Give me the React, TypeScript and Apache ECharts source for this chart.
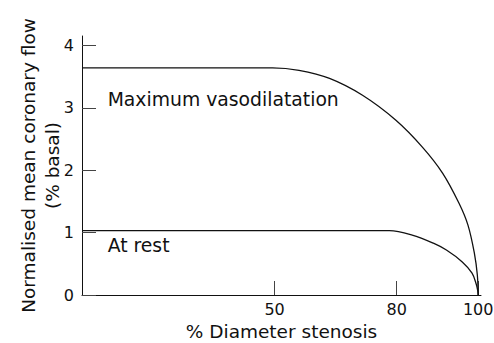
import React, { useEffect, useRef } from "react";
import * as echarts from "echarts";

const xTicks = [50, 80, 100];
const yTicks = [0, 1, 2, 3, 4];
const maxVasodilatation: [number, number][] = [
  [2.7, 3.64], [40, 3.64], [49.5, 3.64], [56, 3.6], [63.5, 3.47], [71.6, 3.2], [79.8, 2.8],
  [86.3, 2.37], [91.3, 1.95], [95.3, 1.47], [97.5, 1.12], [99.1, 0.66], [99.8, 0.32], [100, 0],
];
const atRest: [number, number][] = [
  [2.7, 1.03], [70, 1.03], [78.2, 1.03], [83.8, 0.96], [89, 0.83], [92.2, 0.72],
  [96.1, 0.53], [98.5, 0.35], [99.5, 0.18], [99.9, 0.07], [100, 0],
];
const annotations = [
  { text: "Maximum vasodilatation", x: 9.0, y: 3.13 },
  { text: "At rest", x: 9.0, y: 0.8 },
];

const FONT = "DejaVu Sans";

export default function App() {
  const ref = useRef<HTMLDivElement>(null);
  useEffect(() => {
    if (!ref.current) return;
    const chart = echarts.init(ref.current, undefined, { renderer: "svg" });
    const lineStyle = { color: "#111", width: 1.3 };
    chart.setOption({
      animation: false,
      grid: { left: 82, right: 13, top: 36, bottom: 48, outerBoundsMode: "none", containLabel: false },
      xAxis: {
        type: "value",
        min: 2.7,
        max: 100.7,
        name: "% Diameter stenosis",
        nameLocation: "middle",
        nameGap: 28,
        nameMoveOverlap: false,
        nameTextStyle: { fontFamily: FONT, fontSize: 18.5, color: "#111", lineHeight: 16 },
        axisLine: { show: true, lineStyle: { color: "#111", width: 1 } },
        axisTick: { show: true, inside: true, length: 14, customValues: xTicks, lineStyle: { color: "#444" } },
        axisLabel: { customValues: xTicks, margin: 6, fontFamily: FONT, fontSize: 16, color: "#111" },
        splitLine: { show: false },
      },
      yAxis: {
        type: "value",
        min: 0,
        max: 4.15,
        name: "Normalised mean coronary flow\n(% basal)",
        nameLocation: "middle",
        nameGap: 18,
        nameMoveOverlap: false,
        nameTextStyle: { fontFamily: FONT, fontSize: 18.5, color: "#111", lineHeight: 24 },
        axisLine: { show: true, lineStyle: { color: "#111", width: 1 } },
        axisTick: { show: true, inside: true, length: 14, customValues: yTicks, lineStyle: { color: "#444" } },
        axisLabel: { customValues: yTicks, margin: 8, fontFamily: FONT, fontSize: 16, color: "#111" },
        splitLine: { show: false },
      },
      series: [
        {
          type: "line",
          data: maxVasodilatation,
          showSymbol: false,
          smooth: 0.35,
          lineStyle,
        },
        {
          type: "line",
          data: atRest,
          showSymbol: false,
          smooth: 0.35,
          lineStyle,
        },
      ],
    });
    const graphics = annotations.map((a) => {
      const [px, py] = chart.convertToPixel({ gridIndex: 0 }, [a.x, a.y]) as number[];
      return {
        type: "text",
        x: px,
        y: py,
        style: {
          text: a.text,
          fontFamily: FONT,
          fontSize: 18.8,
          fill: "#111",
          textAlign: "left",
          textVerticalAlign: "middle",
        },
      };
    });
    chart.setOption({ graphic: graphics });
    return () => chart.dispose();
  }, []);
  return <div ref={ref} style={{ width: 494, height: 343, position: "absolute", left: 0, top: 0 }} />;
}
